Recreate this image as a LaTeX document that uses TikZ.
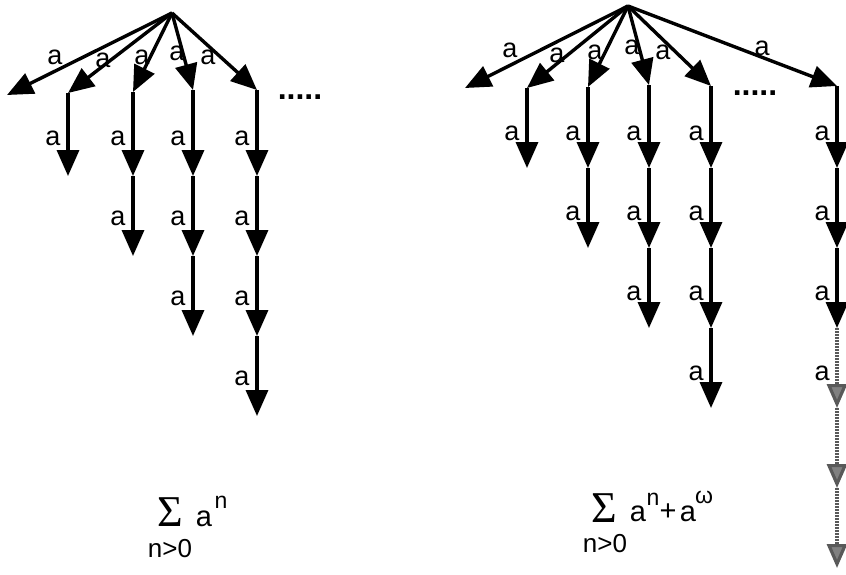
\documentclass[tikz,border=0pt]{standalone}
\usepackage{fontspec}
\setmainfont{Liberation Sans}
\newfontfamily\sigfont{Liberation Serif}
\usetikzlibrary{arrows.meta}

\begin{document}
\begin{tikzpicture}[
    x=1pt, y=-1pt,
    arr/.style={-{Triangle[length=26pt, width=22pt]}, line width=3.4pt},
    faint/.style={-{Triangle[length=24pt, width=20pt, fill=black!50]}, draw=black!65, line width=3.2pt, dash pattern=on 2pt off 1pt},
    lbl/.style={font=\fontsize{27}{27}\selectfont, inner sep=0pt},
    big/.style={font=\fontsize{29}{29}\selectfont, inner sep=0pt},
    low/.style={font=\fontsize{26}{26}\selectfont, inner sep=0pt},
    expo/.style={font=\fontsize{23}{23}\selectfont, inner sep=0pt},
    sig/.style={font=\sigfont\fontsize{44}{44}\selectfont, inner sep=0pt},
    more/.style={font=\fontsize{32}{32}\selectfont\bfseries, inner sep=0pt}
]
\useasboundingbox (0,0) rectangle (846,574);

% left tree
\coordinate (lr) at (172,13);
\foreach \n/\x/\y/\lx/\ly in {1/7/95/55/57, 2/68/93/103/60, 3/133/92/142/57, 4/193/90/177/53, 5/257/90/208/57} {
    \coordinate (l\n-0) at (\x,\y);
    \draw[arr] (lr) -- (l\n-0);
    \node[lbl] (la\n-0) at (\lx,\ly) {a};
}
\foreach \n/\x in {2/68, 3/133, 4/193, 5/257} {
    \pgfmathtruncatemacro\m{\n-1}
    \foreach \i in {1,...,\m} {
        \pgfmathtruncatemacro\p{\i-1}
        \coordinate (l\n-\i) at (\x,96+80*\i);
        \draw[arr] (l\n-\p) -- (l\n-\i);
        \node[lbl] (la\n-\i) at (\x-15,58+80*\i) {a};
    }
}
\node[more] (dotsL) at (300,97) {.....};

% right tree
\coordinate (rr) at (628,6);
\foreach \n/\x/\y/\lx/\ly in {1/465/88/510/50, 2/527/88/557/55, 3/588/87/595/52, 4/649/85/632/47, 5/711/86/663/52, 6/837/86/762/48} {
    \coordinate (r\n-0) at (\x,\y);
    \draw[arr] (rr) -- (r\n-0);
    \node[lbl] (ra\n-0) at (\lx,\ly) {a};
}
\foreach \n/\x in {2/527, 3/588, 4/649, 5/711} {
    \pgfmathtruncatemacro\m{\n-1}
    \foreach \i in {1,...,\m} {
        \pgfmathtruncatemacro\p{\i-1}
        \coordinate (r\n-\i) at (\x,88+80*\i);
        \draw[arr] (r\n-\p) -- (r\n-\i);
        \node[lbl] (ra\n-\i) at (\x-15,53+80*\i) {a};
    }
}
% the infinite branch
\foreach \i/\s in {1/arr, 2/arr, 3/arr, 4/faint, 5/faint, 6/faint} {
    \pgfmathtruncatemacro\p{\i-1}
    \coordinate (r6-\i) at (837,88+80*\i);
    \draw[\s] (r6-\p) -- (r6-\i);
}
\foreach \i in {1,...,4}
    \node[lbl] (ra6-\i) at (822,53+80*\i) {a};
\node[more] (dotsR) at (755,93) {.....};

% sums
\node[sig] (sumL) at (170,512) {Σ};
\node[big] (aL) at (204,519) {a};
\node[expo] (nL) at (221,502) {n};
\node[low] (limL) at (170,549) {n>0};

\node[sig] (sumR) at (604,508) {Σ};
\node[big] (aR) at (638,514) {a};
\node[expo] (nR) at (653,499) {n};
\node[big] (plusR) at (668,512) {+};
\node[big] (aRw) at (688,514) {a};
\node[expo] (wR) at (704,497) {ω};
\node[low] (limR) at (605,544) {n>0};
\end{tikzpicture}
\end{document}
